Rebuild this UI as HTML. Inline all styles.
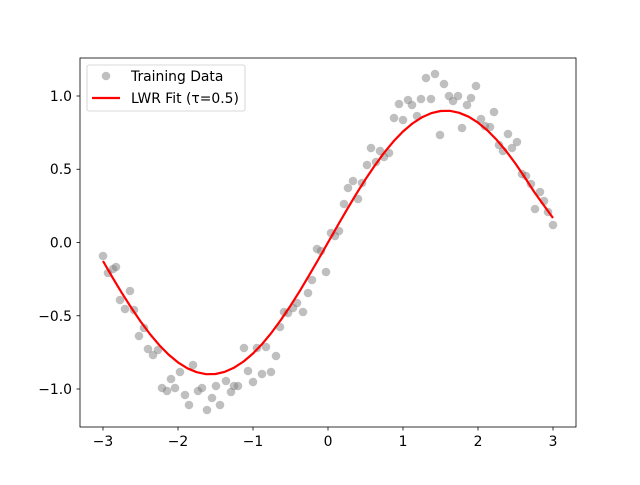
<!DOCTYPE html><html><head><style>body{margin:0;background:#fff}svg text{font-family:"DejaVu Sans","Liberation Sans",sans-serif;font-size:13.9px;fill:#000}</style></head><body>
<svg width="640" height="480" xmlns="http://www.w3.org/2000/svg">
<rect width="640" height="480" fill="#fff"/>
<g fill="#808080" fill-opacity="0.5">
<circle cx="103" cy="256" r="4.3"/><circle cx="108" cy="273" r="4.3"/><circle cx="113" cy="269" r="4.3"/><circle cx="116" cy="267" r="4.3"/><circle cx="120" cy="300" r="4.3"/><circle cx="125" cy="309" r="4.3"/><circle cx="130" cy="291" r="4.3"/><circle cx="134" cy="310" r="4.3"/><circle cx="139" cy="336" r="4.3"/><circle cx="144" cy="328" r="4.3"/><circle cx="148" cy="349" r="4.3"/><circle cx="153" cy="355" r="4.3"/><circle cx="158" cy="350" r="4.3"/><circle cx="162" cy="388" r="4.3"/><circle cx="167" cy="391" r="4.3"/><circle cx="171" cy="379" r="4.3"/><circle cx="175" cy="388" r="4.3"/><circle cx="180" cy="372" r="4.3"/><circle cx="185" cy="395" r="4.3"/><circle cx="189" cy="405" r="4.3"/><circle cx="193" cy="365" r="4.3"/><circle cx="198" cy="391" r="4.3"/><circle cx="202" cy="388" r="4.3"/><circle cx="207" cy="410" r="4.3"/><circle cx="212" cy="398" r="4.3"/><circle cx="216" cy="386" r="4.3"/><circle cx="220" cy="405" r="4.3"/><circle cx="226" cy="381" r="4.3"/><circle cx="231" cy="392" r="4.3"/><circle cx="234" cy="386" r="4.3"/><circle cx="238" cy="386" r="4.3"/><circle cx="244" cy="348" r="4.3"/><circle cx="248" cy="371" r="4.3"/><circle cx="253" cy="382" r="4.3"/><circle cx="257" cy="348" r="4.3"/><circle cx="262" cy="374" r="4.3"/><circle cx="266" cy="347" r="4.3"/><circle cx="271" cy="372" r="4.3"/><circle cx="276" cy="356" r="4.3"/><circle cx="280" cy="327" r="4.3"/><circle cx="284" cy="312" r="4.3"/><circle cx="288" cy="313" r="4.3"/><circle cx="293" cy="308" r="4.3"/><circle cx="297" cy="303" r="4.3"/><circle cx="303" cy="312" r="4.3"/><circle cx="308" cy="293" r="4.3"/><circle cx="312" cy="280" r="4.3"/><circle cx="317" cy="249" r="4.3"/><circle cx="321" cy="251" r="4.3"/><circle cx="326" cy="272" r="4.3"/><circle cx="331" cy="233" r="4.3"/><circle cx="335" cy="236" r="4.3"/><circle cx="339" cy="231" r="4.3"/><circle cx="344" cy="204" r="4.3"/><circle cx="348" cy="188" r="4.3"/><circle cx="353" cy="181" r="4.3"/><circle cx="358" cy="199" r="4.3"/><circle cx="362" cy="183" r="4.3"/><circle cx="367" cy="165" r="4.3"/><circle cx="371" cy="148" r="4.3"/><circle cx="376" cy="162" r="4.3"/><circle cx="380" cy="151" r="4.3"/><circle cx="384" cy="157" r="4.3"/><circle cx="389" cy="153" r="4.3"/><circle cx="394" cy="118" r="4.3"/><circle cx="399" cy="104" r="4.3"/><circle cx="403" cy="120" r="4.3"/><circle cx="408" cy="100" r="4.3"/><circle cx="412" cy="105" r="4.3"/><circle cx="417" cy="116" r="4.3"/><circle cx="421" cy="99" r="4.3"/><circle cx="426" cy="78" r="4.3"/><circle cx="431" cy="99" r="4.3"/><circle cx="435" cy="74" r="4.3"/><circle cx="440" cy="135" r="4.3"/><circle cx="444" cy="84" r="4.3"/><circle cx="449" cy="96" r="4.3"/><circle cx="453" cy="101" r="4.3"/><circle cx="458" cy="96" r="4.3"/><circle cx="462" cy="128" r="4.3"/><circle cx="467" cy="105" r="4.3"/><circle cx="471" cy="98" r="4.3"/><circle cx="476" cy="86" r="4.3"/><circle cx="481" cy="119" r="4.3"/><circle cx="485" cy="126" r="4.3"/><circle cx="490" cy="127" r="4.3"/><circle cx="494" cy="112" r="4.3"/><circle cx="499" cy="145" r="4.3"/><circle cx="503" cy="151" r="4.3"/><circle cx="508" cy="134" r="4.3"/><circle cx="512" cy="148" r="4.3"/><circle cx="517" cy="142" r="4.3"/><circle cx="522" cy="174" r="4.3"/><circle cx="526" cy="176" r="4.3"/><circle cx="531" cy="184" r="4.3"/><circle cx="535" cy="209" r="4.3"/><circle cx="540" cy="192" r="4.3"/><circle cx="544" cy="201" r="4.3"/><circle cx="548" cy="212" r="4.3"/><circle cx="553" cy="225" r="4.3"/>
</g>
<polyline fill="none" stroke="#f00" stroke-width="2.2" stroke-linejoin="round" points="103,261 112.4,277.3 121.75,292.8 131.1,307.5 140.5,321.4 149.9,334 159.25,345.1 168.6,354.6 178,362.4 187.4,368.3 196.75,372.2 206.1,374.2 215.5,374 224.9,371.8 234.25,367.6 243.6,361.5 253,353.5 262.4,343.7 271.75,332.4 281.1,319.6 290.5,305.7 299.9,290.8 309.25,275.1 318.6,259 328,242.5 337.4,226 346.75,209.9 356.1,194.2 365.5,179.3 374.9,165.4 384.25,152.6 393.6,141.3 403,131.5 412.4,123.5 421.75,117.4 431.1,113.2 440.5,111 449.9,110.8 459.25,112.8 468.6,116.7 478,122.6 487.4,130.4 496.75,139.9 506.1,151 515.5,163.6 524.9,177.5 534.25,192 543.6,205 553,218"/>
<rect x="80" y="58" width="496" height="369" fill="none" stroke="#000" stroke-width="0.8"/>
<g stroke="#000" stroke-width="0.8">
<line x1="103" y1="427" x2="103" y2="430.5"/><line x1="178" y1="427" x2="178" y2="430.5"/><line x1="253" y1="427" x2="253" y2="430.5"/><line x1="328" y1="427" x2="328" y2="430.5"/><line x1="403" y1="427" x2="403" y2="430.5"/><line x1="478" y1="427" x2="478" y2="430.5"/><line x1="553" y1="427" x2="553" y2="430.5"/>
<line x1="76.5" y1="96" x2="80" y2="96"/><line x1="76.5" y1="169.25" x2="80" y2="169.25"/><line x1="76.5" y1="242.5" x2="80" y2="242.5"/><line x1="76.5" y1="315.75" x2="80" y2="315.75"/><line x1="76.5" y1="389" x2="80" y2="389"/>
</g>
<g text-anchor="middle">
<text x="103" y="446">−3</text><text x="178" y="446">−2</text><text x="253" y="446">−1</text><text x="328" y="446">0</text><text x="403" y="446">1</text><text x="478" y="446">2</text><text x="553" y="446">3</text>
</g>
<g text-anchor="end">
<text x="72" y="101">1.0</text><text x="72" y="174">0.5</text><text x="72" y="247.5">0.0</text><text x="72" y="321">−0.5</text><text x="72" y="394">−1.0</text>
</g>
<rect x="87" y="65" width="158" height="46" rx="2" fill="#fff" fill-opacity="0.8" stroke="#ccc" stroke-width="0.8"/>
<circle cx="106" cy="76" r="4.3" fill="#808080" fill-opacity="0.5"/>
<text x="131" y="81">Training Data</text>
<line x1="92" y1="98" x2="120" y2="98" stroke="#f00" stroke-width="2.2"/>
<text x="131" y="103">LWR Fit (τ=0.5)</text>
</svg></body></html>
